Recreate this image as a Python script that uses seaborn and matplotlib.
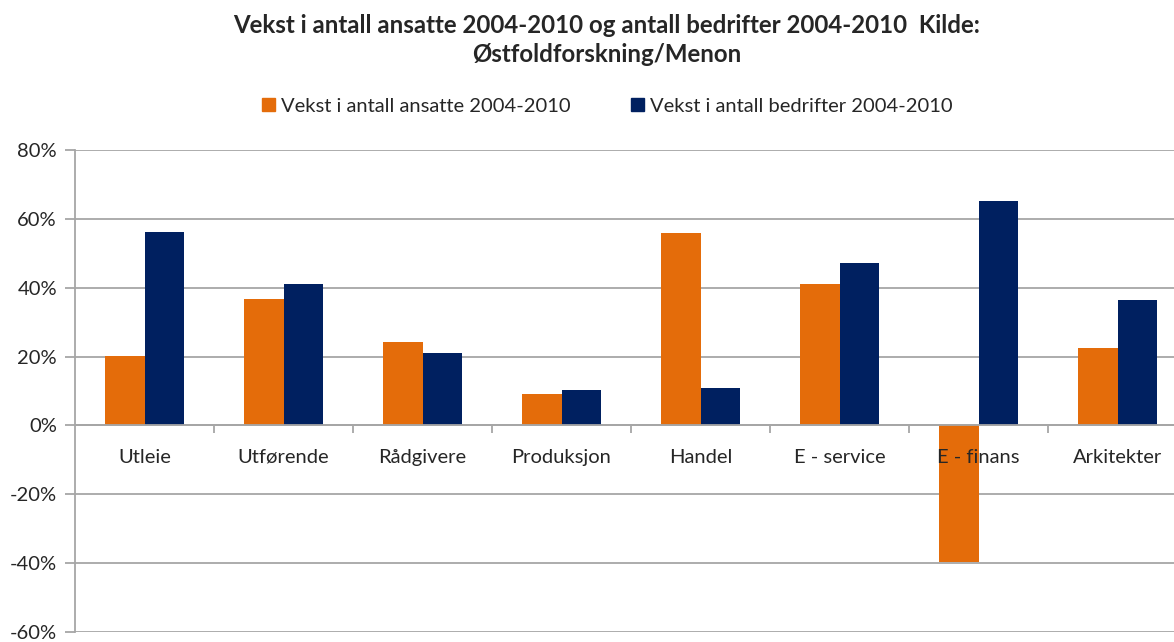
import pandas as pd
import matplotlib.pyplot as plt
import seaborn as sns
from matplotlib.ticker import PercentFormatter, FixedLocator

categories = ['Utleie', 'Utførende', 'Rådgivere', 'Produksjon', 'Handel',
              'E - service', 'E - finans', 'Arkitekter']
ansatte = [20.1, 36.8, 24.2, 9.2, 55.8, 41.2, -39.7, 22.4]
bedrifter = [56.1, 41.2, 21.0, 10.4, 10.9, 47.2, 65.3, 36.3]
series = ['Vekst i antall ansatte 2004-2010', 'Vekst i antall bedrifter 2004-2010']
colors = ['#E46C0A', '#002060']
yticks = [-60, -40, -20, 0, 20, 40, 60, 80]

df = pd.DataFrame({
    'kategori': categories * 2,
    'serie': [series[0]] * len(categories) + [series[1]] * len(categories),
    'verdi': ansatte + bedrifter,
})

sns.set_style('white')
plt.rcParams['font.family'] = ['Lato', 'DejaVu Sans']
plt.rcParams['axes.unicode_minus'] = False

fig = plt.figure(figsize=(11.74, 6.42), dpi=100)
ax = fig.add_axes([75 / 1174, 10 / 642, 1112 / 1174, 482 / 642])

sns.barplot(df, x='kategori', y='verdi', hue='serie', palette=colors,
            width=0.57, saturation=1, linewidth=0, ax=ax, legend=False, zorder=2)

for t in yticks:
    ax.axhline(t, color='#A6A6A6', lw=1.3, zorder=0)

ax.set_ylim(-60, 80)
ax.set_xlim(-0.5, len(categories) - 0.5)
ax.yaxis.set_major_locator(FixedLocator(yticks))
ax.yaxis.set_major_formatter(PercentFormatter(decimals=0))
ax.tick_params(axis='y', length=7, color='#A6A6A6', width=1.3, labelsize=14.5,
               labelcolor='#262626', pad=6, left=True)

ax.spines['bottom'].set_position(('data', 0))
for s in ['top', 'right']:
    ax.spines[s].set_visible(False)
for s in ['left', 'bottom']:
    ax.spines[s].set_color('#A6A6A6')
    ax.spines[s].set_linewidth(1.3)

ax.set_xticks(range(len(categories)))
ax.set_xticklabels([])
ax.tick_params(axis='x', which='major', length=0)
ax.set_xticks([i + 0.5 for i in range(len(categories))], minor=True)
ax.tick_params(axis='x', which='minor', length=6, direction='out',
               color='#A6A6A6', width=1.3, bottom=True)

for i, c in enumerate(categories):
    ax.text(i, -10.9, c, ha='center', va='baseline', fontsize=14.5,
            color='#262626', zorder=5)

ax.set_xlabel('')
ax.set_ylabel('')

fig.text(607 / 1174, 1 - 40 / 642,
         'Vekst i antall ansatte 2004-2010 og antall bedrifter 2004-2010  Kilde:\nØstfoldforskning/Menon',
         ha='center', va='center', fontsize=17.3, fontweight='bold',
         color='#262626', linespacing=1.3)

handles = [plt.Rectangle((0, 0), 1, 1, color=c) for c in colors]
fig.legend(handles, series, loc='center', bbox_to_anchor=(607 / 1174, 1 - 106 / 642),
           ncol=2, frameon=False, fontsize=14.5, handlelength=0.65, handleheight=0.65,
           handletextpad=0.3, columnspacing=3.0, labelcolor='#262626')

fig.savefig('out.png', dpi=100)
